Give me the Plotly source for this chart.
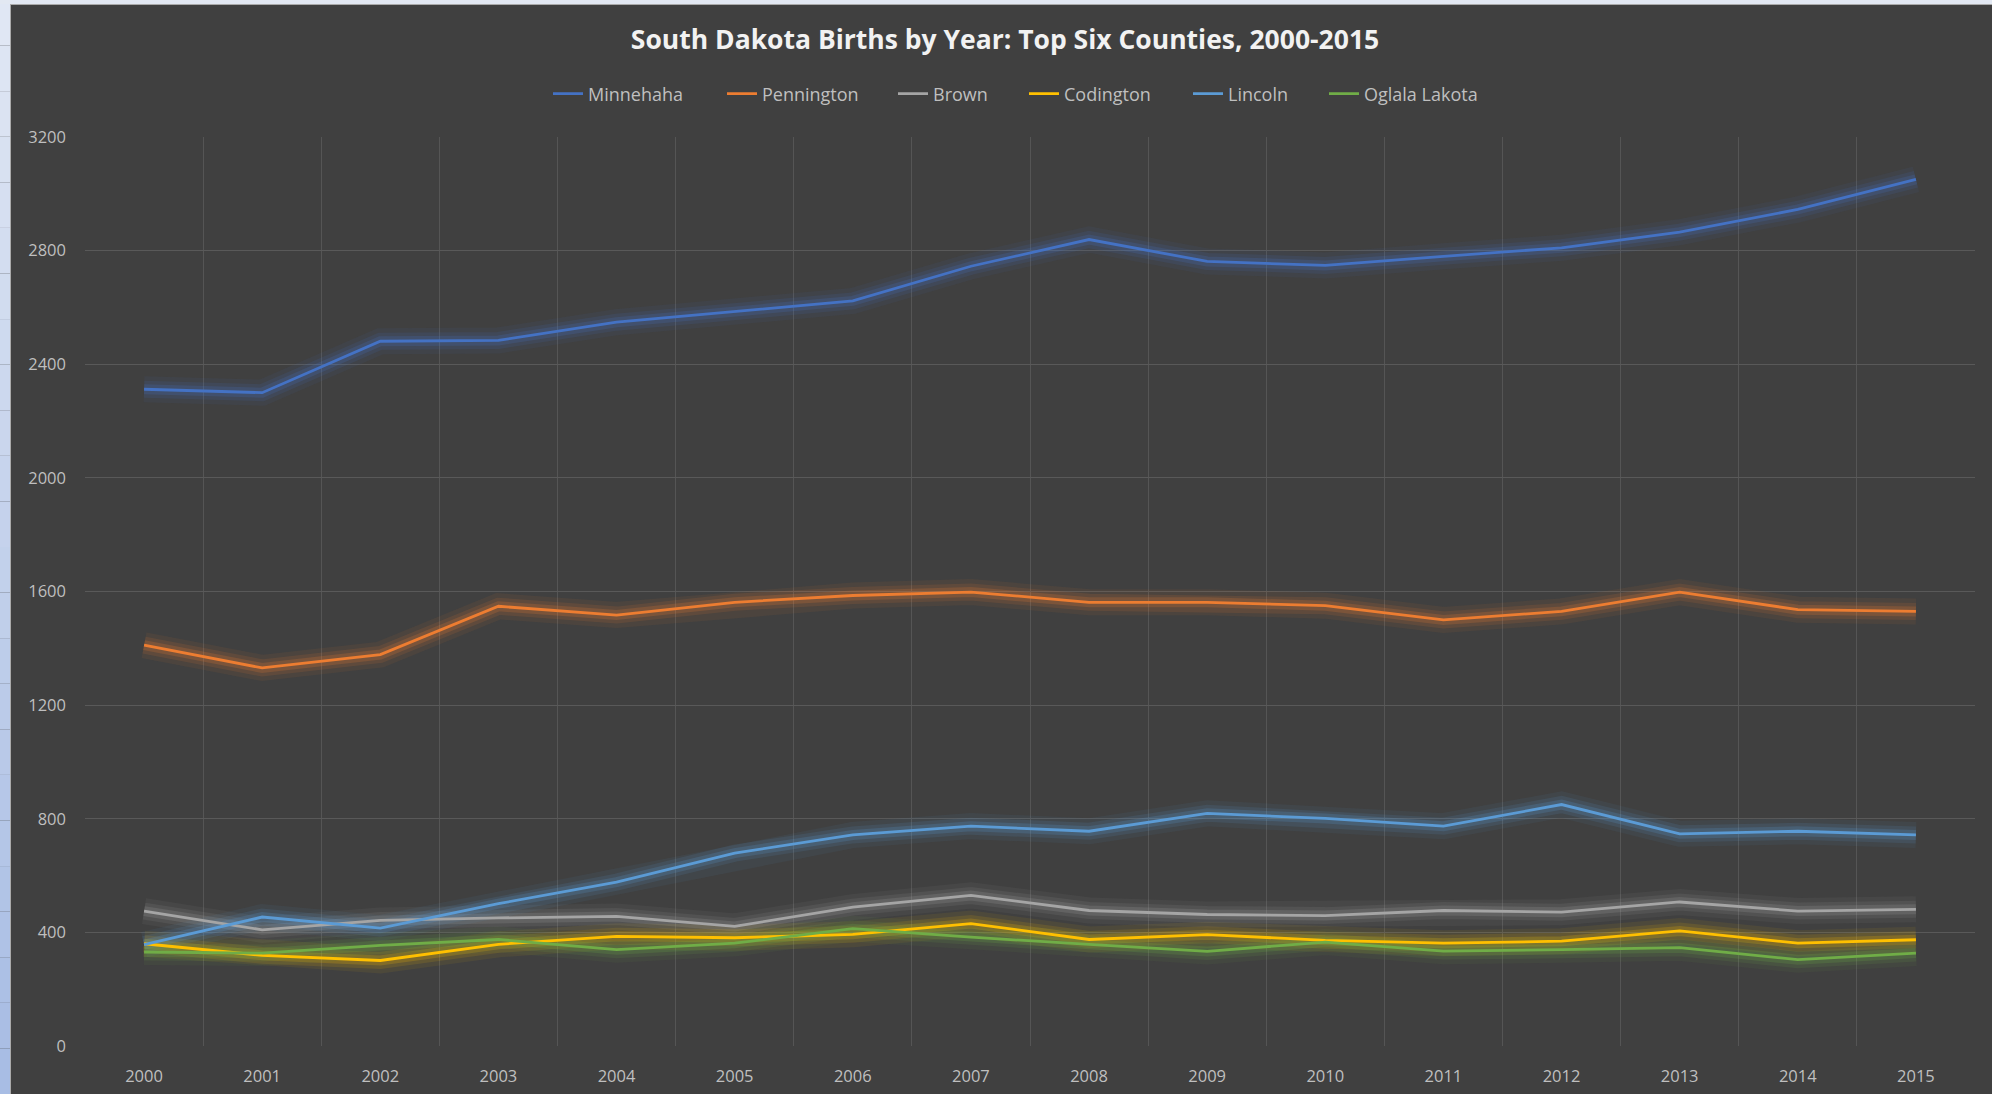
import plotly.graph_objects as go

years = [str(y) for y in range(2000, 2016)]

minnehaha = [2312, 2300, 2481, 2484, 2548, 2585, 2623, 2745, 2839, 2762, 2748, 2780, 2810, 2865, 2945, 3051]
pennington = [1411, 1331, 1378, 1548, 1517, 1562, 1586, 1598, 1562, 1562, 1550, 1500, 1530, 1598, 1536, 1530]
brown = [475, 409, 442, 451, 456, 421, 489, 530, 477, 463, 459, 477, 471, 507, 475, 481]
codington = [360, 319, 301, 358, 386, 381, 393, 431, 375, 392, 372, 362, 369, 405, 362, 374]
lincoln = [357, 454, 415, 501, 577, 679, 743, 774, 756, 819, 801, 774, 850, 747, 756, 743]
oglala = [331, 327, 354, 375, 339, 362, 413, 383, 358, 333, 366, 334, 339, 346, 304, 327]

series = [
    ("Minnehaha", minnehaha, (68, 114, 196)),
    ("Pennington", pennington, (237, 125, 49)),
    ("Brown", brown, (165, 165, 165)),
    ("Codington", codington, (255, 192, 0)),
    ("Lincoln", lincoln, (91, 155, 213)),
    ("Oglala Lakota", oglala, (112, 173, 71)),
]

# pixel x where each legend entry starts (layout only)
legend_px = [554, 728, 899, 1030, 1194, 1330]

W, H = 1992, 1094
L, R, T, B = 85, 17, 137, 48
pw, ph = W - L - R, H - T - B

fig = go.Figure()

# glow layers
for name, vals, (r, g, b) in series:
    for width, alpha in [(26, 0.07), (17, 0.12), (10, 0.2)]:
        fig.add_trace(go.Scatter(
            x=years, y=vals, mode="lines", showlegend=False, hoverinfo="skip",
            line=dict(color=f"rgba({r},{g},{b},{alpha})", width=width),
        ))

legends = {}
for i, (name, vals, (r, g, b)) in enumerate(series):
    lname = "legend" if i == 0 else f"legend{i + 1}"
    fig.add_trace(go.Scatter(
        x=years, y=vals, mode="lines", name=name, legend=lname,
        line=dict(color=f"rgb({r},{g},{b})", width=2.8),
    ))
    legends[lname] = dict(
        orientation="h", x=(legend_px[i] - 6 - L) / pw, xanchor="left",
        y=(H - B - 94) / ph, yanchor="middle",
        font=dict(size=18, color="#BFBFBF"),
        bgcolor="rgba(0,0,0,0)", borderwidth=0, itemwidth=30,
    )

shapes = []
# left light-blue strip (gradient)
n = 24
top_c = (224, 231, 244)
bot_c = (168, 189, 228)
for i in range(n):
    t = i / (n - 1)
    c = tuple(int(top_c[k] + (bot_c[k] - top_c[k]) * t) for k in range(3))
    y_top_px = H * i / n
    y_bot_px = H * (i + 1) / n
    shapes.append(dict(
        type="rect", xref="paper", yref="paper", layer="above",
        x0=(0 - L) / pw, x1=(10 - L) / pw,
        y0=(H - B - y_bot_px) / ph, y1=(H - B - y_top_px) / ph,
        fillcolor=f"rgb{c}", line=dict(width=0),
    ))
# top strip
shapes.append(dict(
    type="rect", xref="paper", yref="paper", layer="above",
    x0=(0 - L) / pw, x1=(W - L) / pw,
    y0=(H - B - 4) / ph, y1=(H - B) / ph,
    fillcolor="rgb(226,232,242)", line=dict(width=0),
))
# thin border lines
shapes.append(dict(
    type="line", xref="paper", yref="paper", layer="above",
    x0=(10.5 - L) / pw, x1=(10.5 - L) / pw,
    y0=(H - B - H) / ph, y1=(H - B - 4) / ph,
    line=dict(color="rgb(170,170,170)", width=1),
))
shapes.append(dict(
    type="line", xref="paper", yref="paper", layer="above",
    x0=(10 - L) / pw, x1=(W - L) / pw,
    y0=(H - B - 4.5) / ph, y1=(H - B - 4.5) / ph,
    line=dict(color="rgb(170,170,170)", width=1),
))

font_family = "'Open Sans', Lato, Arial, sans-serif"

fig.update_layout(
    width=W, height=H,
    margin=dict(l=L, r=R, t=T, b=B, pad=0),
    paper_bgcolor="#404040",
    plot_bgcolor="#404040",
    font=dict(family=font_family, color="#BFBFBF", size=16),
    title=dict(
        text="<b>South Dakota Births by Year: Top Six Counties, 2000-2015</b>",
        x=1005 / W, xanchor="center", y=1 - 40 / H, yanchor="middle",
        font=dict(size=26.5, color="#F2F2F2", family=font_family),
    ),
    showlegend=True,
    shapes=shapes,
    hovermode=False,
    **legends,
)

fig.update_xaxes(
    type="category", range=[-0.5, 15.5], tickson="boundaries",
    showgrid=True, gridcolor="#555555", gridwidth=1,
    showline=False, zeroline=False, automargin=False,
    ticks="", ticklabelstandoff=18,
    tickfont=dict(size=16.5, color="#BFBFBF"),
)
fig.update_yaxes(
    range=[0, 3200], dtick=400, tick0=0,
    showgrid=True, gridcolor="#595959", gridwidth=1,
    showline=False, zeroline=False, automargin=False,
    ticks="", ticklabelstandoff=18,
    tickfont=dict(size=16.5, color="#BFBFBF"),
)

fig.write_html("out.html", config={"displayModeBar": False},
               post_script="document.body.style.margin='0';document.body.style.overflow='hidden';")
